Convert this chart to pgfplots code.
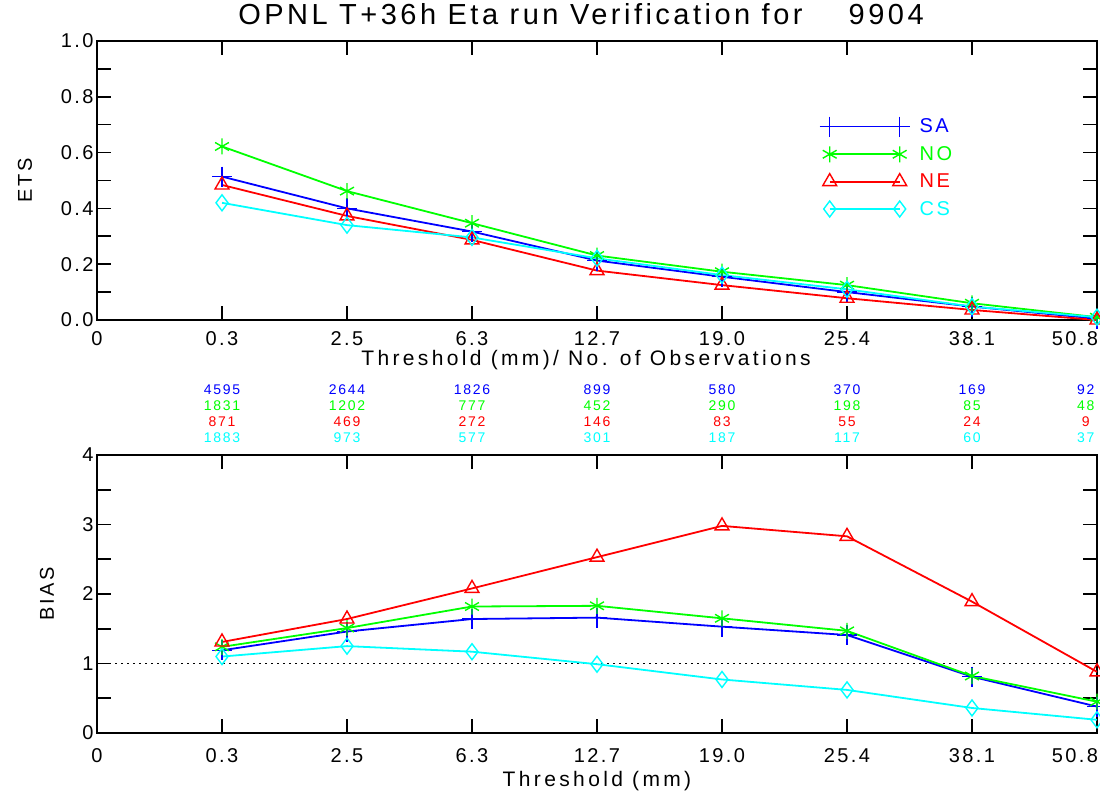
\documentclass[border=0pt]{standalone}
\usepackage{fontspec}
\setmainfont{Liberation Sans}[LetterSpace=12]
\usepackage{pgfplots}
\pgfplotsset{compat=1.18}

\definecolor{idlblue}{rgb}{0,0,1}
\definecolor{idlgreen}{rgb}{0,1,0}
\definecolor{idlred}{rgb}{1,0,0}
\definecolor{idlcyan}{rgb}{0,1,1}

\newcommand{\tickfont}{\fontsize{20}{24}\selectfont}
\newcommand{\labfont}{\fontsize{21}{24}\selectfont\addfontfeature{LetterSpace=16}}
\newcommand{\countfont}{\fontsize{14}{15}\selectfont}

\pgfplotsset{
  idl/.style={
    scale only axis,
    width=1000pt,
    xmin=0, xmax=8,
    xtick={0,1,2,3,4,5,6,7},
    xticklabels={0,0.3,2.5,6.3,12.7,19.0,25.4,38.1},
    extra x ticks={8},
    extra x tick labels={50.8},
    extra x tick style={xticklabel style={xshift=-22pt}},
    tick align=inside,
    tick pos=both,
    major tick length=14pt,
    minor tick length=14pt,
    axis line style={line width=1.6pt},
    every tick/.style={black, line width=1.6pt},
    tick label style={font=\tickfont},
    clip=false,
    every axis x label/.style={at={(axis description cs:0.489,0)}, anchor=north, font=\labfont},
  },
  ser/.style={line width=1.8pt, mark size=8pt, mark options={solid, line width=1.4pt}},
  cnt/.style={draw=none, mark=none, forget plot, nodes near coords,
    point meta=explicit symbolic,
    nodes near coords style={anchor=center, font=\countfont, text=#1}},
}

\begin{document}
\begin{tikzpicture}
\useasboundingbox (0pt,0pt) rectangle (1100pt,803pt);

% ---- ETS panel ----
\begin{axis}[idl,
    at={(97pt,483pt)}, anchor=south west,
    height=279pt,
    ymin=0, ymax=1,
    ytick={0,0.2,0.4,0.6,0.8,1},
    yticklabels={0.0,0.2,0.4,0.6,0.8,1.0},
    minor y tick num=1,
    xticklabel style={yshift=-8pt},
    xlabel={Threshold (mm)/ No. of Observations},
    xlabel style={yshift=-27pt},
    ylabel={ETS},
    every axis y label/.style={at={(axis description cs:-0.072,0.5)}, rotate=90, anchor=center, font=\tickfont},
    title={OPNL T+36h Eta run Verification for\ \ \ \ 9904},
    title style={at={(axis description cs:0.484,1.039)}, anchor=base, font=\fontsize{29}{32}\selectfont},
    legend style={at={(axis cs:5.78,0.73)}, anchor=north west, draw=none, fill=none,
      font=\tickfont, inner sep=0pt, row sep=8pt},
    legend cell align=left,
    legend image code/.code={\draw[#1] plot coordinates {(0pt,0pt) (70pt,0pt)};},
  ]
  \addplot[ser, idlblue, mark=+, mark size=10pt] coordinates {
    (1,0.514) (2,0.400) (3,0.317) (4,0.213) (5,0.155) (6,0.100) (7,0.048) (8,0.005)};
  \addlegendentry{\hspace*{8pt}\textcolor{idlblue}{SA}}
  \addplot[ser, idlgreen, mark=asterisk] coordinates {
    (1,0.622) (2,0.462) (3,0.347) (4,0.231) (5,0.173) (6,0.125) (7,0.060) (8,0.010)};
  \addlegendentry{\hspace*{8pt}\textcolor{idlgreen}{NO}}
  \addplot[ser, idlred, mark=triangle] coordinates {
    (1,0.484) (2,0.373) (3,0.287) (4,0.177) (5,0.125) (6,0.078) (7,0.036) (8,0.000)};
  \addlegendentry{\hspace*{8pt}\textcolor{idlred}{NE}}
  \addplot[ser, idlcyan, mark=diamond] coordinates {
    (1,0.420) (2,0.340) (3,0.296) (4,0.221) (5,0.161) (6,0.110) (7,0.048) (8,0.010)};
  \addlegendentry{\hspace*{8pt}\textcolor{idlcyan}{CS}}

  % number of observations per threshold
  \addplot[cnt=idlblue] coordinates {
    (1,-0.251)[4595] (2,-0.251)[2644] (3,-0.251)[1826] (4,-0.251)[899]
    (5,-0.251)[580] (6,-0.251)[370] (7,-0.251)[169] (7.91,-0.251)[92]};
  \addplot[cnt=idlgreen] coordinates {
    (1,-0.308)[1831] (2,-0.308)[1202] (3,-0.308)[777] (4,-0.308)[452]
    (5,-0.308)[290] (6,-0.308)[198] (7,-0.308)[85] (7.91,-0.308)[48]};
  \addplot[cnt=idlred] coordinates {
    (1,-0.366)[871] (2,-0.366)[469] (3,-0.366)[272] (4,-0.366)[146]
    (5,-0.366)[83] (6,-0.366)[55] (7,-0.366)[24] (7.91,-0.366)[9]};
  \addplot[cnt=idlcyan] coordinates {
    (1,-0.423)[1883] (2,-0.423)[973] (3,-0.423)[577] (4,-0.423)[301]
    (5,-0.423)[187] (6,-0.423)[117] (7,-0.423)[60] (7.91,-0.423)[37]};
\end{axis}

% ---- BIAS panel ----
\begin{axis}[idl,
    at={(97pt,70pt)}, anchor=south west,
    height=278pt,
    ymin=0, ymax=4,
    ytick={0,1,2,3,4},
    yticklabels={0,1,2,3,4},
    minor y tick num=1,
    xticklabel style={yshift=-12pt},
    xlabel={Threshold (mm)},
    xlabel style={yshift=-35pt, xshift=11pt},
    ylabel={BIAS},
    every axis y label/.style={at={(axis description cs:-0.05,0.5)}, rotate=90, anchor=center, font=\tickfont},
  ]
  \addplot[black, line width=1.6pt, dash pattern=on 2pt off 4pt, forget plot] coordinates {(0,1) (8,1)};
  \addplot[ser, idlblue, mark=+, mark size=10pt] coordinates {
    (1,1.19) (2,1.46) (3,1.64) (4,1.66) (5,1.53) (6,1.41) (7,0.81) (8,0.38)};
  \addplot[ser, idlgreen, mark=asterisk] coordinates {
    (1,1.24) (2,1.51) (3,1.82) (4,1.83) (5,1.65) (6,1.47) (7,0.82) (8,0.45)};
  \addplot[ser, idlred, mark=triangle] coordinates {
    (1,1.31) (2,1.64) (3,2.08) (4,2.53) (5,2.98) (6,2.83) (7,1.89) (8,0.88)};
  \addplot[ser, idlcyan, mark=diamond] coordinates {
    (1,1.10) (2,1.25) (3,1.17) (4,0.99) (5,0.77) (6,0.62) (7,0.36) (8,0.19)};
\end{axis}
\end{tikzpicture}
\end{document}
